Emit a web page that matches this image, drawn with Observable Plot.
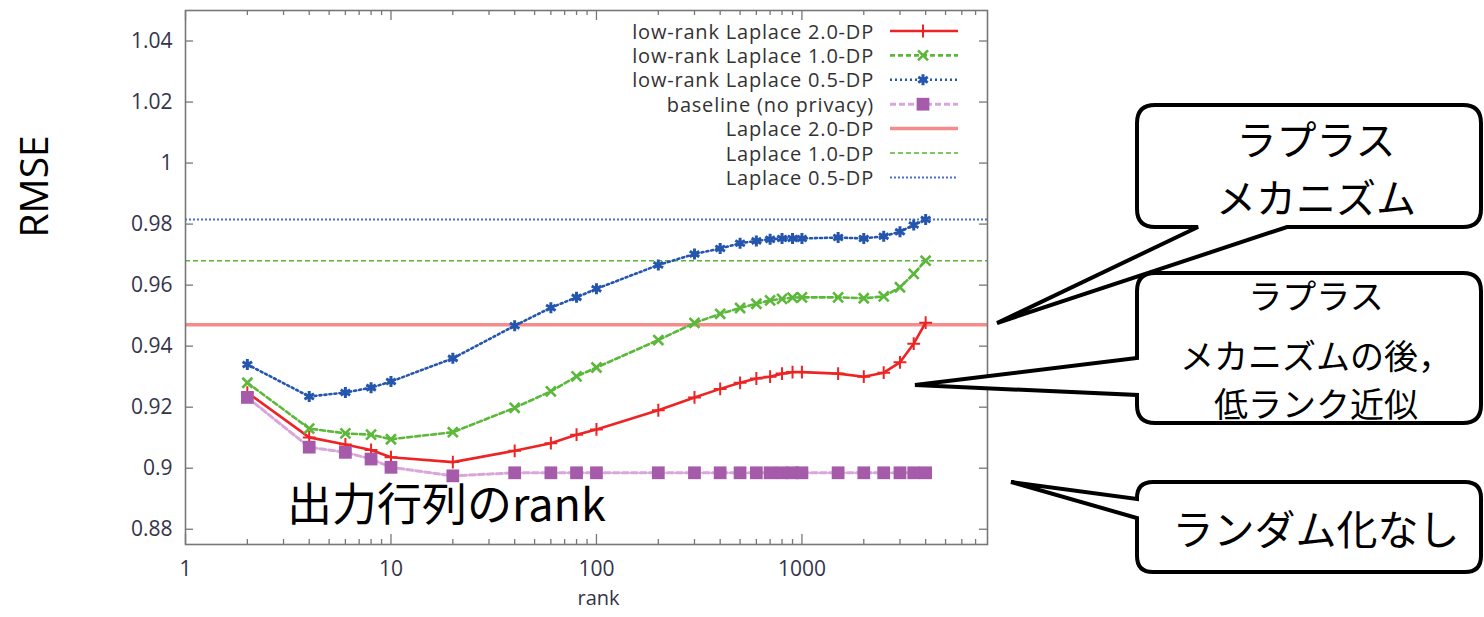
<!DOCTYPE html>
<html><head><meta charset="utf-8">
<script src="https://cdn.jsdelivr.net/npm/d3@7"></script>
<script src="https://cdn.jsdelivr.net/npm/@observablehq/plot@0.6"></script>
<style>
body{margin:0;background:#fff;}
#wrap{position:relative;width:1484px;height:617px;overflow:hidden;background:#fff;}
#wrap svg{position:absolute;left:0;top:0;}
</style></head><body><div id="wrap"></div>
<script>
// ---- data ----
const ranks = [2,4,6,8,10,20,40,60,80,100,200,300,400,500,600,700,800,900,1000,1500,2000,2500,3000,3500,4000];
const lowRank20 = [0.9248,0.9101,0.9078,0.9060,0.9036,0.9020,0.9057,0.9082,0.9110,0.9127,0.9190,0.9232,0.9260,0.9280,0.9294,0.9300,0.9310,0.9315,0.9315,0.9310,0.9300,0.9313,0.9347,0.9408,0.9477];
const lowRank10 = [0.9280,0.9130,0.9114,0.9110,0.9095,0.9118,0.9198,0.9252,0.9301,0.9330,0.9420,0.9476,0.9506,0.9525,0.9539,0.9550,0.9555,0.9559,0.9560,0.9560,0.9557,0.9563,0.9593,0.9637,0.9680];
const lowRank05 = [0.9340,0.9235,0.9248,0.9264,0.9284,0.9360,0.9467,0.9526,0.9560,0.9588,0.9666,0.9702,0.9720,0.9737,0.9745,0.9750,0.9753,0.9753,0.9753,0.9756,0.9753,0.9760,0.9775,0.9797,0.9815];
const baseline  = [0.9232,0.9069,0.9052,0.9030,0.9003,0.8975,0.8985,0.8985,0.8985,0.8985,0.8985,0.8985,0.8985,0.8985,0.8985,0.8985,0.8985,0.8985,0.8985,0.8985,0.8985,0.8985,0.8985,0.8985,0.8985];
const laplaceLevels = [0.947, 0.968, 0.9815];
const seriesNames = ["low-rank Laplace 2.0-DP","low-rank Laplace 1.0-DP","low-rank Laplace 0.5-DP","baseline (no privacy)"];
const laplaceNames = ["Laplace 2.0-DP","Laplace 1.0-DP","Laplace 0.5-DP"];
const yTicks = [0.88,0.90,0.92,0.94,0.96,0.98,1.00,1.02,1.04];
const xMajor = [1,10,100,1000];
const xMinor = [2,3,4,5,6,7,8,9,20,30,40,50,60,70,80,90,200,300,400,500,600,700,800,900,2000,3000,4000,5000,6000,7000];
const yAxisLabel = "RMSE";
const xAxisLabel = "rank";
const annotation = "出力行列のrank";
const callouts = [["ラプラス","メカニズム"],["ラプラス","メカニズムの後，","低ランク近似"],["ランダム化なし"]];

// ---- styles ----
const seriesStyle = [
  {stroke:"#ee2424", width:2.6, dash:null, symbol:"plus", r:4.2, mfill:"none", mstroke:"#ee2424", msw:2},
  {stroke:"#5cb83a", width:2.6, dash:"5,3", symbol:"times", r:4.6, mfill:"none", mstroke:"#5cb83a", msw:2.6},
  {stroke:"#2456ad", width:2.6, dash:"2,3", symbol:"asterisk", r:5.2, mfill:"none", mstroke:"#2456ad", msw:3},
  {stroke:"#d9a6db", width:3, dash:"6,3", symbol:"square", r:7.2, mfill:"#a65aaa", mstroke:"none", msw:0}
];
const laplaceStyle = [
  {stroke:"#f48c8c", width:3.5, dash:null},
  {stroke:"#58b234", width:1.5, dash:"5,3"},
  {stroke:"#4a70c8", width:2, dash:"2,2"}
];
const seriesValues = [lowRank20, lowRank10, lowRank05, baseline];

const W = 1484, H = 617, ML = 185, MR = 497, MT = 10, MB = 73;
const IW = W - ML - MR, IH = H - MT - MB;

const marks = [];
laplaceLevels.forEach((v, i) => {
  marks.push(Plot.ruleY([v], {stroke: laplaceStyle[i].stroke, strokeWidth: laplaceStyle[i].width, strokeDasharray: laplaceStyle[i].dash}));
});
seriesValues.forEach((vals, k) => {
  const s = seriesStyle[k];
  const rows = ranks.map((r, i) => ({rank: r, v: vals[i]}));
  marks.push(Plot.line(rows, {x: "rank", y: "v", stroke: s.stroke, strokeWidth: s.width, strokeDasharray: s.dash}));
});
seriesValues.forEach((vals, k) => {
  const s = seriesStyle[k];
  const rows = ranks.map((r, i) => ({rank: r, v: vals[i]}));
  marks.push(Plot.dot(rows, {x: "rank", y: "v", symbol: s.symbol, r: s.r, fill: s.mfill, stroke: s.mstroke, strokeWidth: s.msw}));
});
// inward ticks
marks.push(Plot.tickY(yTicks, {y: d => d, insetRight: IW - 8, stroke: "#777", strokeWidth: 1.3}));
marks.push(Plot.tickY(yTicks, {y: d => d, insetLeft: IW - 8, stroke: "#777", strokeWidth: 1.3}));
marks.push(Plot.tickX(xMajor, {x: d => d, insetTop: IH - 10, stroke: "#777", strokeWidth: 1.3}));
marks.push(Plot.tickX(xMajor, {x: d => d, insetBottom: IH - 10, stroke: "#777", strokeWidth: 1.3}));
marks.push(Plot.tickX(xMinor, {x: d => d, insetTop: IH - 5, stroke: "#777", strokeWidth: 1.3}));
marks.push(Plot.tickX(xMinor, {x: d => d, insetBottom: IH - 5, stroke: "#777", strokeWidth: 1.3}));
marks.push(Plot.frame({stroke: "#777", strokeWidth: 1.6}));
marks.push(Plot.axisY({ticks: yTicks, tickSize: 0, tickPadding: 13, tickFormat: d => String(+d.toFixed(2)), fontSize: 21, label: null}));
marks.push(Plot.axisX({ticks: xMajor, tickSize: 0, tickPadding: 17, tickFormat: d3.format("d"), fontSize: 21, label: null}));
marks.push(Plot.text([xAxisLabel], {text: d => d, frameAnchor: "bottom", dy: 60, dx: 12, fontSize: 20}));
marks.push(Plot.text([yAxisLabel], {text: d => d, frameAnchor: "left", dx: -150, dy: -40, rotate: -90, fontSize: 39, fill: "#000"}));

const chart = Plot.plot({
  width: W, height: H,
  marginLeft: ML, marginRight: MR, marginTop: MT, marginBottom: MB,
  x: {type: "log", domain: [1, 8000]},
  y: {domain: [0.875, 1.05]},
  style: {fontFamily: "'Open Sans', sans-serif", color: "#34344a", background: "transparent", overflow: "visible"},
  marks
});
const wrap = document.getElementById("wrap");
wrap.appendChild(chart);

// ---- overlay: legend, annotation, callouts ----
const svg = d3.select(wrap).append("svg").attr("width", W).attr("height", H).style("pointer-events","none");

// legend
const lg = svg.append("g").attr("font-family", "'Open Sans', sans-serif").attr("font-size", 20).attr("letter-spacing", "0.8px").attr("fill", "#333");
const allNames = seriesNames.concat(laplaceNames);
const symMap = {plus: d3.symbolPlus, times: d3.symbolTimes, asterisk: d3.symbolAsterisk, square: d3.symbolSquare};
allNames.forEach((name, i) => {
  const y = 31 + i * 24.4;
  lg.append("text").attr("x", 874).attr("y", y).attr("text-anchor", "end").attr("dominant-baseline", "central").text(name);
  const st = i < 4 ? seriesStyle[i] : laplaceStyle[i - 4];
  lg.append("line").attr("x1", 890).attr("x2", 958).attr("y1", y).attr("y2", y)
    .attr("stroke", st.stroke).attr("stroke-width", st.width).attr("stroke-dasharray", st.dash);
  if (i < 4) {
    lg.append("path").attr("transform", `translate(923,${y})`)
      .attr("d", d3.symbol(symMap[st.symbol], Math.PI * st.r * st.r)())
      .attr("fill", st.mfill).attr("stroke", st.mstroke).attr("stroke-width", st.msw);
  }
});

// annotation inside plot
svg.append("text").attr("x", 287).attr("y", 521).attr("font-family", "'Noto Sans CJK JP', sans-serif")
  .attr("font-size", 45).attr("fill", "#000").text(annotation);

// callouts
function boxBottomTail(x0,y0,x1,y1,r,xa,xb,tx,ty){
  return `M${x0+r},${y0}H${x1-r}Q${x1},${y0} ${x1},${y0+r}V${y1-r}Q${x1},${y1} ${x1-r},${y1}H${xb}L${tx},${ty}L${xa},${y1}H${x0+r}Q${x0},${y1} ${x0},${y1-r}V${y0+r}Q${x0},${y0} ${x0+r},${y0}Z`;
}
function boxLeftTail(x0,y0,x1,y1,r,ya,yb,tx,ty){
  return `M${x0+r},${y0}H${x1-r}Q${x1},${y0} ${x1},${y0+r}V${y1-r}Q${x1},${y1} ${x1-r},${y1}H${x0+r}Q${x0},${y1} ${x0},${y1-r}V${yb}L${tx},${ty}L${x0},${ya}V${y0+r}Q${x0},${y0} ${x0+r},${y0}Z`;
}
const cg = svg.append("g");
const paths = [
  boxLeftTail(1137,482,1481,572,16,499,518,1011,482),
  boxBottomTail(1137,105,1481,227,18,1198,1287,997,323),
  boxLeftTail(1137,273,1481,423,18,358,395,915,385)
];
paths.forEach(d => cg.append("path").attr("d", d).attr("fill", "#fff").attr("stroke", "#000").attr("stroke-width", 4).attr("stroke-linejoin", "miter").attr("stroke-miterlimit", 4));

const tg = svg.append("g").attr("font-family", "'Noto Sans CJK JP', sans-serif").attr("fill", "#000").attr("text-anchor", "middle").attr("dominant-baseline", "central");
const textSpecs = [
  {lines: callouts[0], ys: [138, 196], size: 40},
  {lines: callouts[1], ys: [294, 354, 402], size: 34},
  {lines: callouts[2], ys: [527], size: 41}
];
textSpecs.forEach(t => t.lines.forEach((ln, j) => {
  tg.append("text").attr("x", 1316).attr("y", t.ys[j]).attr("font-size", t.size).text(ln);
}));
</script></body></html>
